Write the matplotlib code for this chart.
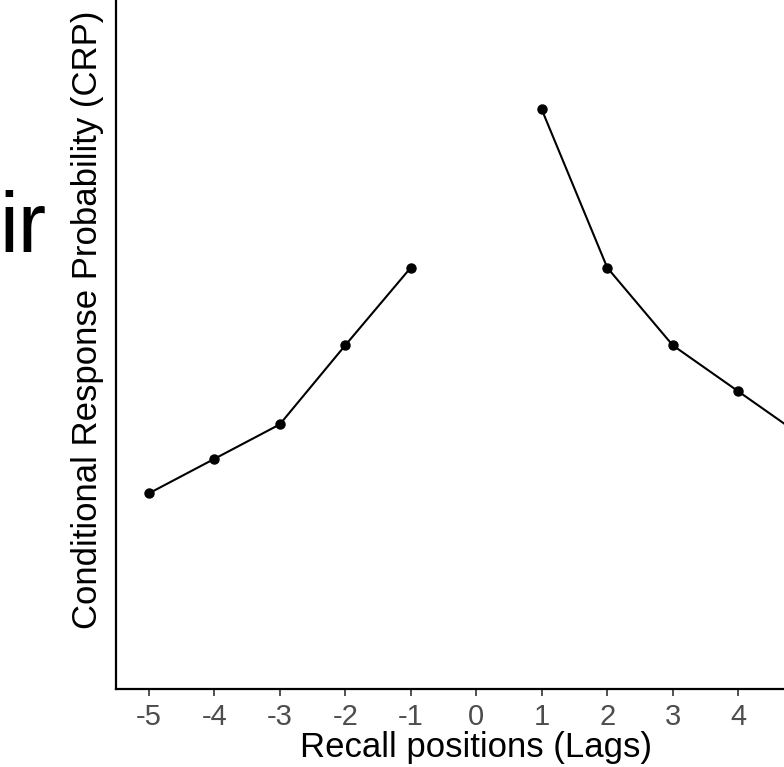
import matplotlib
matplotlib.use("Agg")
import matplotlib.pyplot as plt

lags_neg = [-5, -4, -3, -2, -1]
crp_neg = [0.136, 0.160, 0.184, 0.239, 0.293]
lags_pos = [1, 2, 3, 4, 5]
crp_pos = [0.403, 0.293, 0.239, 0.207, 0.175]
xticks = [-5, -4, -3, -2, -1, 0, 1, 2, 3, 4, 5]

plt.rcParams['font.family'] = ['Liberation Sans', 'DejaVu Sans']

W, H = 784, 767
fig = plt.figure(figsize=(W / 100, H / 100), dpi=100)
left_px, right_px = 116, 836.5
bottom_px, top_px = 689, -30
ax = fig.add_axes([left_px / W, 1 - bottom_px / H,
                   (right_px - left_px) / W, (bottom_px - top_px) / H])

for xs, ys in [(lags_neg, crp_neg), (lags_pos, crp_pos)]:
    ax.plot(xs, ys, color='black', lw=1.5, marker='o', markersize=6.5,
            clip_on=False)

ax.set_xlim(-5.5, 5.5)
ax.set_ylim(0, 0.5)
ax.set_xticks(xticks)
ax.set_xticklabels([str(t) for t in xticks])
ax.set_yticks([])
ax.tick_params(axis='x', length=5, width=1.2, color='#333333',
               labelsize=21, labelcolor='#4D4D4D', pad=5)
for s in ['top', 'right']:
    ax.spines[s].set_visible(False)
for s in ['left', 'bottom']:
    ax.spines[s].set_linewidth(1.6)
    ax.spines[s].set_color('black')

fig.text(476 / W, 1 - 748 / H, 'Recall positions (Lags)', ha='center',
         va='center', fontsize=25)
fig.text(88 / W, 1 - 320 / H, 'Conditional Response Probability (CRP)',
         ha='center', va='center', rotation=90, fontsize=25)
fig.text(-1 / W, 1 - 252 / H, 'ir', ha='left', va='baseline', fontsize=61)

fig.savefig('out.png', dpi=100)
